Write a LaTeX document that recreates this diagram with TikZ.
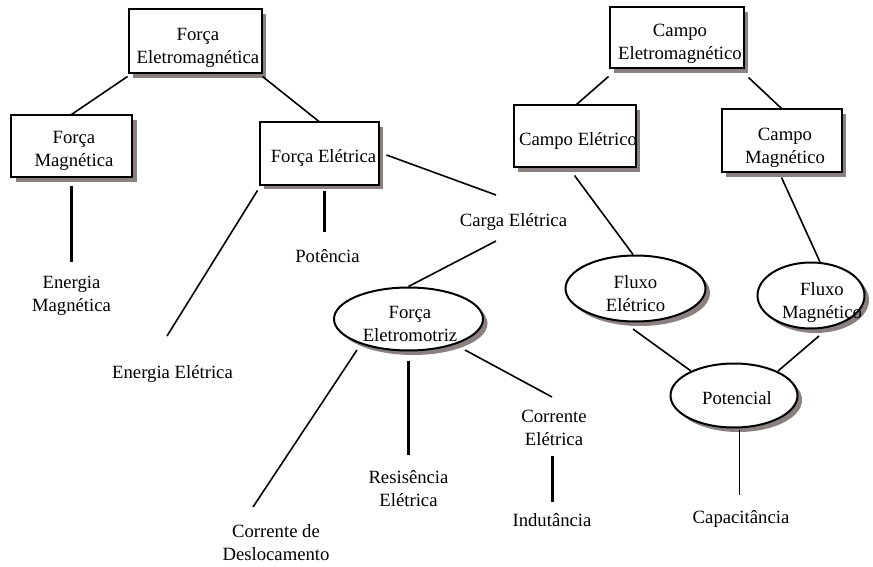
\documentclass[tikz,border=0pt]{standalone}
\usepackage{fontspec}
\setmainfont{Liberation Serif}
\usetikzlibrary{shapes.geometric,shadows}
\definecolor{shadowc}{HTML}{8A8080}
\begin{document}
\begin{tikzpicture}[x=1pt,y=-1pt,
  font=\fontsize{18.7}{23}\selectfont,
  shade/.style={drop shadow={shadow xshift=4.5pt,shadow yshift=-4.5pt,opacity=1,fill=shadowc}},
  box/.style={draw,line width=2pt,fill=white,inner sep=0pt,shade},
  ell/.style={ellipse,draw,line width=2pt,fill=white,inner sep=0pt,shade},
  txt/.style={inner sep=0pt,align=center},
  btxt/.style={inner sep=0pt,anchor=base},
  link/.style={line width=1.6pt},
  heavy/.style={line width=3pt},
  fine/.style={line width=0.9pt}]
\useasboundingbox (0,0) rectangle (873,567);

% concept boxes
\node[box,minimum width=133pt,minimum height=64pt] (fem)  at (195,41.5) {};
\node[box,minimum width=121pt,minimum height=62pt] (fmag) at (71.5,146.5) {};
\node[box,minimum width=119pt,minimum height=62pt] (fele) at (319,153.5) {};
\node[box,minimum width=134pt,minimum height=61pt] (cem)  at (676.5,38) {};
\node[box,minimum width=122pt,minimum height=62pt] (cel)  at (574.5,136.5) {};
\node[box,minimum width=120pt,minimum height=63pt] (cmag) at (781.5,141) {};

% concept ellipses
\node[ell,minimum width=149pt,minimum height=63pt] (femo) at (408.5,319) {};
\node[ell,minimum width=140pt,minimum height=66pt] (fel)  at (635.5,288.5) {};
\node[ell,minimum width=107pt,minimum height=66pt] (fmg)  at (811,295.5) {};
\node[ell,minimum width=127pt,minimum height=64pt] (pot)  at (734,395.5) {};

% labels inside the shapes
\node[txt] (femt)  at (198,47.8) {Força\\Eletromagnética};
\node[txt] (fmagt) at (74,151.2) {Força\\Magnética};
\node[btxt] (felet) at (323.5,162.5) {Força Elétrica};
\node[txt] (cemt)  at (680,43.6) {Campo\\Eletromagnético};
\node[btxt] (celt) at (578,146) {Campo Elétrico};
\node[txt] (cmagt) at (785,147.5) {Campo\\Magnético};
\node[txt] (femot) at (410,324.2) {Força\\Eletromotriz};
\node[txt] (felt)  at (635.5,293.6) {Fluxo\\Elétrico};
\node[txt] (fmgt)  at (822,302.8) {Fluxo\\Magnético};
\node[btxt] (pott) at (737,404) {Potencial};

% free-standing concepts
\node[txt] (emag)  at (71.5,296) {Energia\\Magnética};
\node[btxt] (pote) at (327.5,262) {Potência};
\node[btxt] (eele) at (172.5,378) {Energia Elétrica};
\node[btxt] (carga) at (513.5,226.5) {Carga Elétrica};
\node[txt] (resis) at (408.5,489) {Resisência\\Elétrica};
\node[txt] (corel) at (554,427.5) {Corrente\\Elétrica};
\node[txt] (cdes)  at (276,543) {Corrente de\\Deslocamento};
\node[btxt] (indu) at (552,526) {Indutância};
\node[btxt] (capac) at (741,523) {Capacitância};

% connectors
\draw[link] ([yshift=-2pt]fem.south west) -- (fmag.north);
\draw[link] ([yshift=-2pt]fem.south east) -- (fele.north);
\draw[heavy] ([yshift=-7pt]fmag.south) -- ([yshift=34pt]emag.center);
\draw[link] ([xshift=-1pt,yshift=-5pt]fele.south west) -- ([xshift=-5.5pt,yshift=42pt]eele.base);
\draw[heavy] ([xshift=5pt,yshift=-5pt]fele.south) -- ([xshift=-3.5pt,yshift=30pt]pote.base);
\draw[link] ([xshift=7pt,yshift=-1.5pt]fele.east) -- ([xshift=-17.5pt,yshift=31.5pt]carga.base);
\draw[link] ([xshift=-17.5pt,yshift=-14.5pt]carga.base) -- (femo.north);
\draw[link] ([xshift=-51.5pt,yshift=-31pt]femo.center) -- ([xshift=-23pt,yshift=36pt]cdes.center);
\draw[heavy] ([yshift=-9pt]femo.south) -- ([yshift=34pt]resis.center);
\draw[link] ([xshift=56.5pt,yshift=-31pt]femo.center) -- ([xshift=-2pt,yshift=30.5pt]corel.center);
\draw[heavy] ([xshift=-2pt,yshift=-28.5pt]corel.center) -- ([yshift=24pt]indu.base);
\draw[link] ([yshift=-7pt]cem.south west) -- ([xshift=2pt]cel.north);
\draw[link] ([xshift=4pt,yshift=-8pt]cem.south east) -- (cmag.north);
\draw[link] ([yshift=-7pt]cel.south) -- ([xshift=-2.5pt]fel.north);
\draw[link] ([yshift=-4pt]cmag.south) -- ([xshift=9pt,yshift=33.5pt]fmg.center);
\draw[link] ([xshift=-2.5pt,yshift=-40.5pt]fel.center) -- ([xshift=-43pt,yshift=24.5pt]pot.center);
\draw[link] ([xshift=8pt,yshift=-40.5pt]fmg.center) -- ([xshift=44pt,yshift=24.5pt]pot.center);
\draw[fine] ([xshift=5pt,yshift=-34.5pt]pot.center) -- ([xshift=-2pt,yshift=28pt]capac.base);
\end{tikzpicture}
\end{document}
